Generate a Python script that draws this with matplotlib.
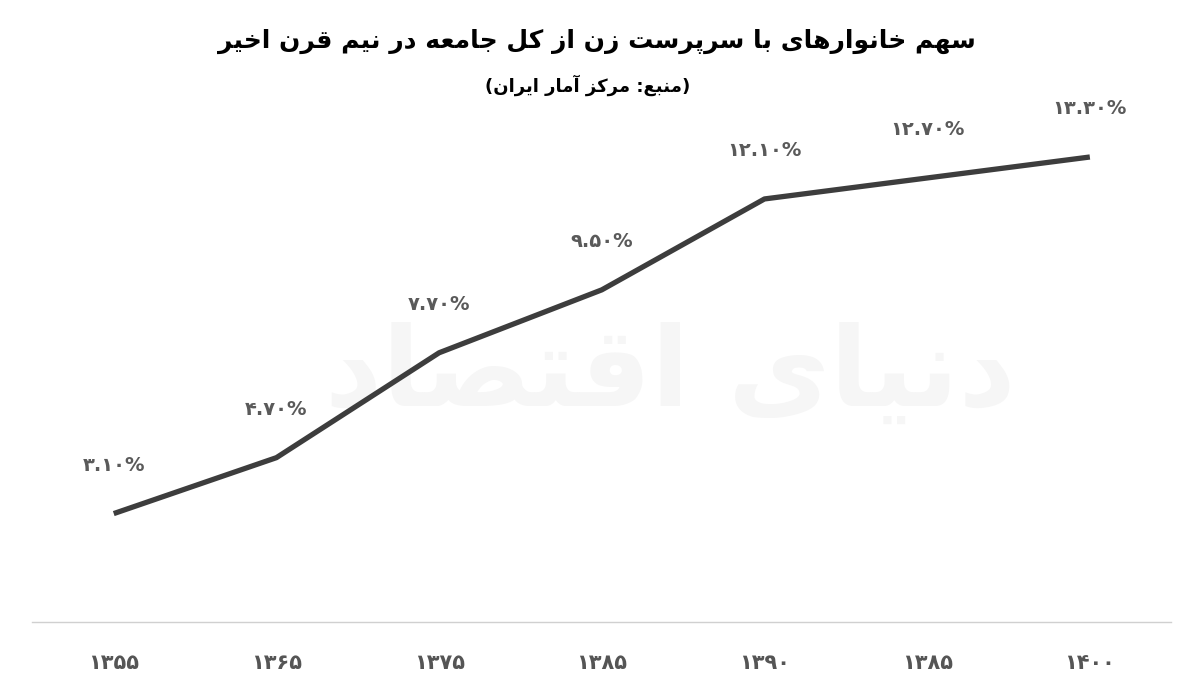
import matplotlib
matplotlib.use("Agg")
import matplotlib.pyplot as plt

years = ["۱۳۵۵", "۱۳۶۵", "۱۳۷۵", "۱۳۸۵", "۱۳۹۰", "۱۳۸۵", "۱۴۰۰"]
values = [3.1, 4.7, 7.7, 9.5, 12.1, 12.7, 13.3]
value_labels = ["۳.۱۰%", "۴.۷۰%", "۷.۷۰%", "۹.۵۰%", "۱۲.۱۰%", "۱۲.۷۰%", "۱۳.۳۰%"]

TITLE = "سهم خانوارهای با سرپرست زن از کل جامعه در نیم قرن اخیر"
SUBTITLE = "(منبع: مرکز آمار ایران)"
WATERMARK = "دنیای اقتصاد"

# presentation forms: isolated, final, initial, medial
FORMS = {
    "ا": (0xFE8D, 0xFE8E, None, None), "آ": (0xFE81, 0xFE82, None, None),
    "ب": (0xFE8F, 0xFE90, 0xFE91, 0xFE92), "پ": (0xFB56, 0xFB57, 0xFB58, 0xFB59),
    "ت": (0xFE95, 0xFE96, 0xFE97, 0xFE98), "ج": (0xFE9D, 0xFE9E, 0xFE9F, 0xFEA0),
    "خ": (0xFEA5, 0xFEA6, 0xFEA7, 0xFEA8), "د": (0xFEA9, 0xFEAA, None, None),
    "ر": (0xFEAD, 0xFEAE, None, None), "ز": (0xFEAF, 0xFEB0, None, None),
    "س": (0xFEB1, 0xFEB2, 0xFEB3, 0xFEB4), "ص": (0xFEB9, 0xFEBA, 0xFEBB, 0xFEBC),
    "ع": (0xFEC9, 0xFECA, 0xFECB, 0xFECC), "ق": (0xFED5, 0xFED6, 0xFED7, 0xFED8),
    "ک": (0xFB8E, 0xFB8F, 0xFB90, 0xFB91), "ل": (0xFEDD, 0xFEDE, 0xFEDF, 0xFEE0),
    "م": (0xFEE1, 0xFEE2, 0xFEE3, 0xFEE4), "ن": (0xFEE5, 0xFEE6, 0xFEE7, 0xFEE8),
    "ه": (0xFEE9, 0xFEEA, 0xFEEB, 0xFEEC), "و": (0xFEED, 0xFEEE, None, None),
    "ی": (0xFBFC, 0xFBFD, 0xFBFE, 0xFBFF),
}
MIRROR = {"(": ")", ")": "("}


def shape(s):
    out = []
    for i, ch in enumerate(s):
        if ch not in FORMS:
            out.append(ch)
            continue
        prev = s[i - 1] if i > 0 else ""
        nxt = s[i + 1] if i + 1 < len(s) else ""
        jp = prev in FORMS and FORMS[prev][2] is not None
        jn = FORMS[ch][2] is not None and nxt in FORMS
        f = FORMS[ch]
        if jp and jn:
            out.append(chr(f[3]))
        elif jp:
            out.append(chr(f[1]))
        elif jn:
            out.append(chr(f[2]))
        else:
            out.append(chr(f[0]))
    return "".join(MIRROR.get(c, c) for c in reversed(out))


plt.rcParams["font.family"] = ["DejaVu Sans"]
fig = plt.figure(figsize=(12, 6.9), dpi=100, facecolor="white")
ax = fig.add_axes([0.027, 0.0986, 0.949, 0.76])

# faint watermark behind everything
ax.text(0.56, 0.47, shape(WATERMARK), transform=ax.transAxes, ha="center", va="center",
        fontsize=80, fontweight="bold", color="#f6f6f6", zorder=0)

x = list(range(len(years)))
ax.plot(x, values, color="#3d3d3d", linewidth=3.8, solid_capstyle="butt", zorder=3)
for xi, v, lab in zip(x, values, value_labels):
    ax.annotate(lab, (xi, v), xytext=(0, 28), textcoords="offset points",
                ha="center", va="bottom", fontsize=14, fontweight="bold",
                color="#5a5a5a", zorder=4)

ax.set_xlim(-0.5, 6.5)
ax.set_ylim(0, 15)
ax.set_xticks(x)
ax.set_xticklabels(years, fontsize=15, fontweight="bold", color="#555555")
ax.tick_params(axis="x", length=0, pad=22)
ax.set_yticks([])
for side in ["top", "left", "right"]:
    ax.spines[side].set_visible(False)
ax.spines["bottom"].set_color("#d0d0d0")
ax.spines["bottom"].set_linewidth(1)

fig.text(0.497, 0.94, shape(TITLE), ha="center", va="center", fontsize=18,
         fontweight="bold", color="black")
fig.text(0.49, 0.877, shape(SUBTITLE), ha="center", va="center", fontsize=13,
         fontweight="bold", color="black")

fig.savefig("out.png", dpi=100, facecolor="white")
